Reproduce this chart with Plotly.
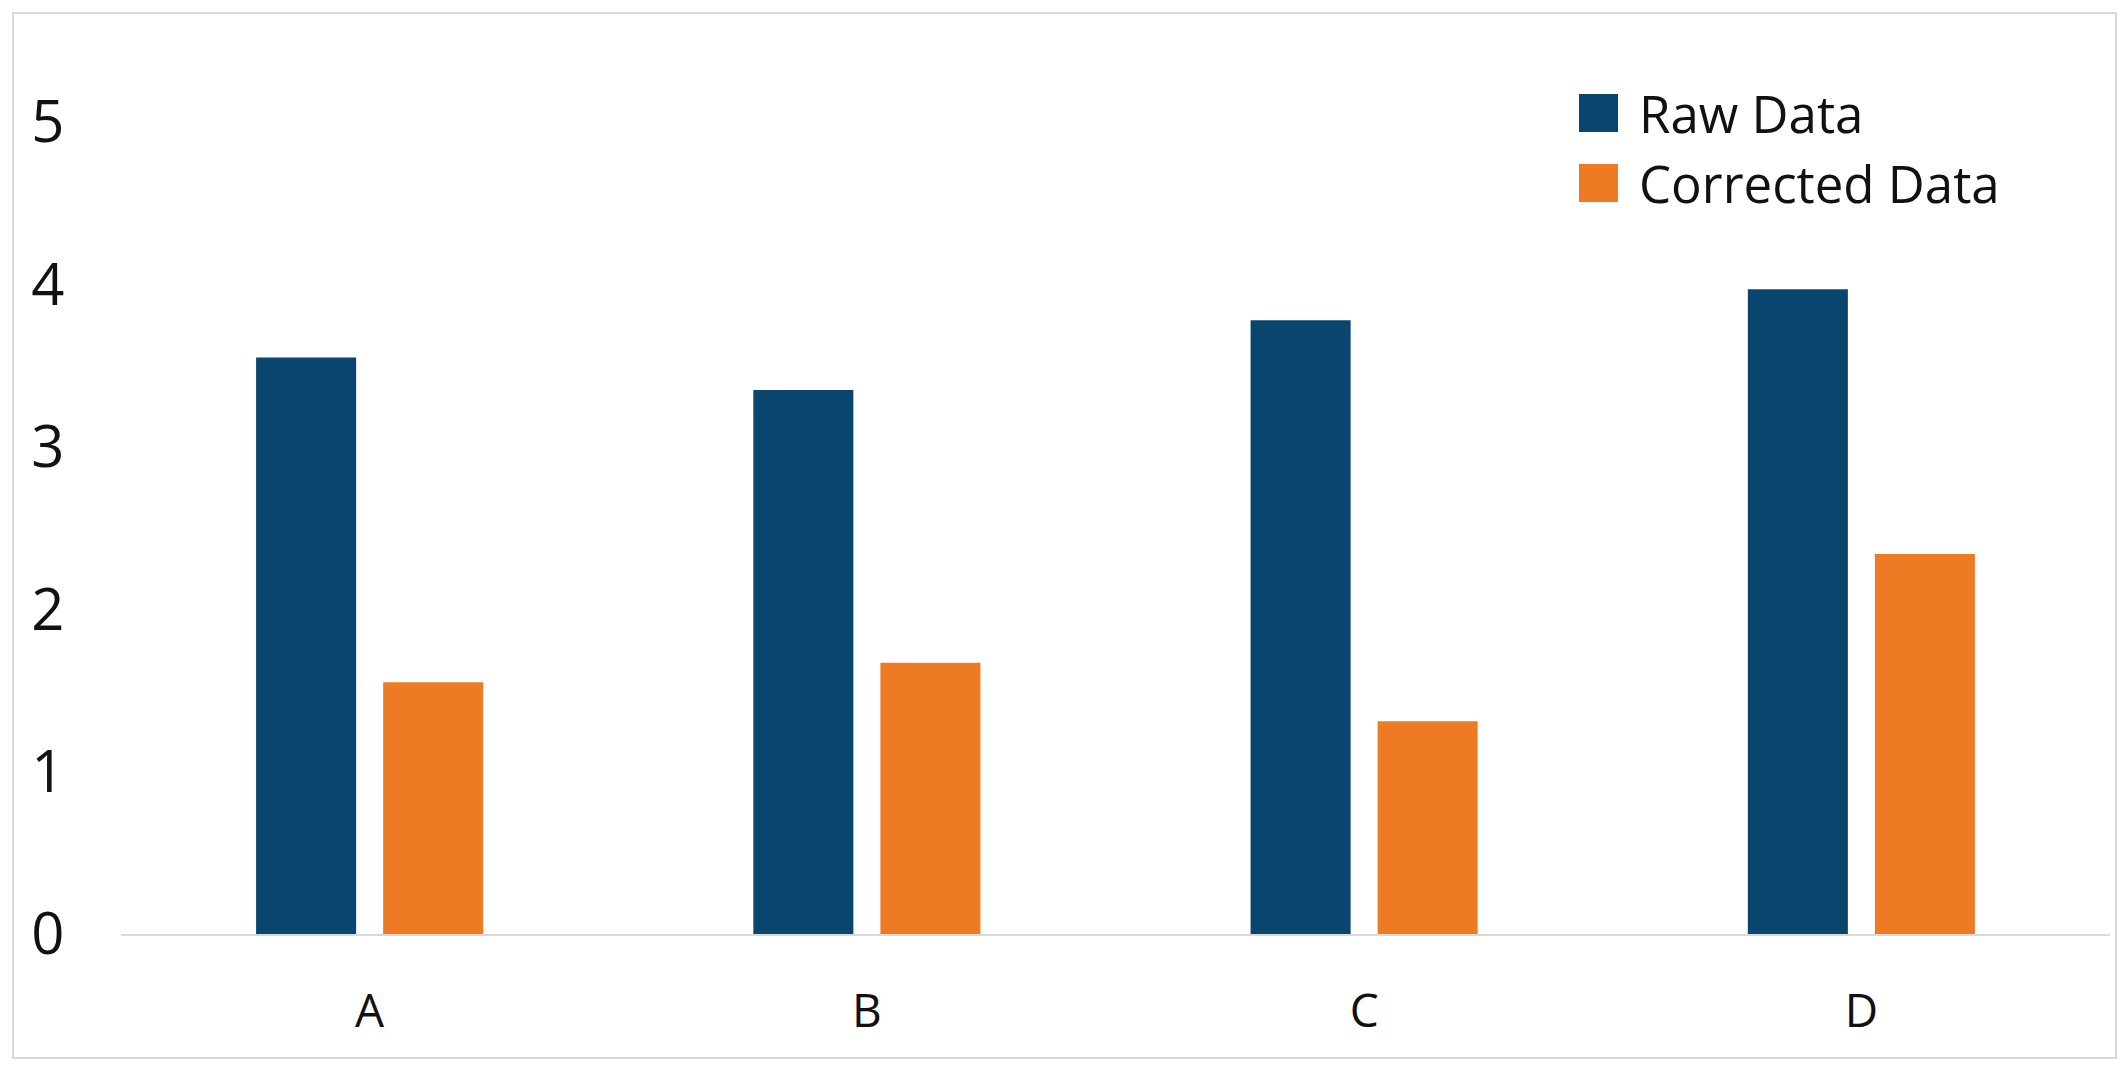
import plotly.graph_objects as go

categories = ["A", "B", "C", "D"]
raw_data = [3.55, 3.35, 3.78, 3.97]
corrected_data = [1.55, 1.67, 1.31, 2.34]
series_names = ["Raw Data", "Corrected Data"]
series_colors = ["#0A4570", "#EE7B24"]
y_ticks = [0, 1, 2, 3, 4, 5]

W, H = 2128, 1072
ML, MR, MT, MB = 121, 18, 122, 138
PW = W - ML - MR
PH = H - MT - MB


def px_x(p):
    return (p - ML) / PW


def px_y(p):
    return (H - MB - p) / PH


FONT = "Open Sans"

fig = go.Figure()
for name, vals, col in zip(series_names, [raw_data, corrected_data], series_colors):
    fig.add_trace(go.Bar(x=categories, y=vals, name=name, marker=dict(color=col, line=dict(width=0)),
                         showlegend=False))

shapes = [
    dict(type="rect", xref="paper", yref="paper",
         x0=px_x(13), x1=px_x(2116), y0=px_y(1058), y1=px_y(13),
         line=dict(color="#d9d9d9", width=2), fillcolor="rgba(0,0,0,0)", layer="below"),
]
annotations = []
legend_rows = [113, 183]
for name, col, yc in zip(series_names, series_colors, legend_rows):
    shapes.append(dict(type="rect", xref="paper", yref="paper",
                       x0=px_x(1579), x1=px_x(1618), y0=px_y(yc + 19), y1=px_y(yc - 19),
                       line=dict(width=0), fillcolor=col))
    annotations.append(dict(text=name, xref="paper", yref="paper", x=px_x(1637), y=px_y(yc),
                            xanchor="left", yanchor="middle", showarrow=False,
                            font=dict(family=FONT, size=51, color="#111111")))

fig.update_layout(
    width=W, height=H,
    margin=dict(l=ML, r=MR, t=MT, b=MB, pad=0),
    paper_bgcolor="white", plot_bgcolor="white",
    barmode="group", bargap=0.489, bargroupgap=0.2126,
    shapes=shapes, annotations=annotations,
    xaxis=dict(showline=True, linecolor="#d9d9d9", linewidth=2, showgrid=False, zeroline=False,
               ticks="outside", ticklen=36, tickcolor="rgba(0,0,0,0)",
               tickfont=dict(family=FONT, size=46, color="#111111")),
    yaxis=dict(range=[0, 5], tickvals=y_ticks, showgrid=False, zeroline=False, showline=False,
               ticks="outside", ticklen=44, tickcolor="rgba(0,0,0,0)",
               tickfont=dict(family=FONT, size=58, color="#111111")),
)

fig.write_html(
    "out.html",
    config={"displayModeBar": False},
    post_script="document.body.style.margin='0';document.body.style.overflow='hidden';",
)
